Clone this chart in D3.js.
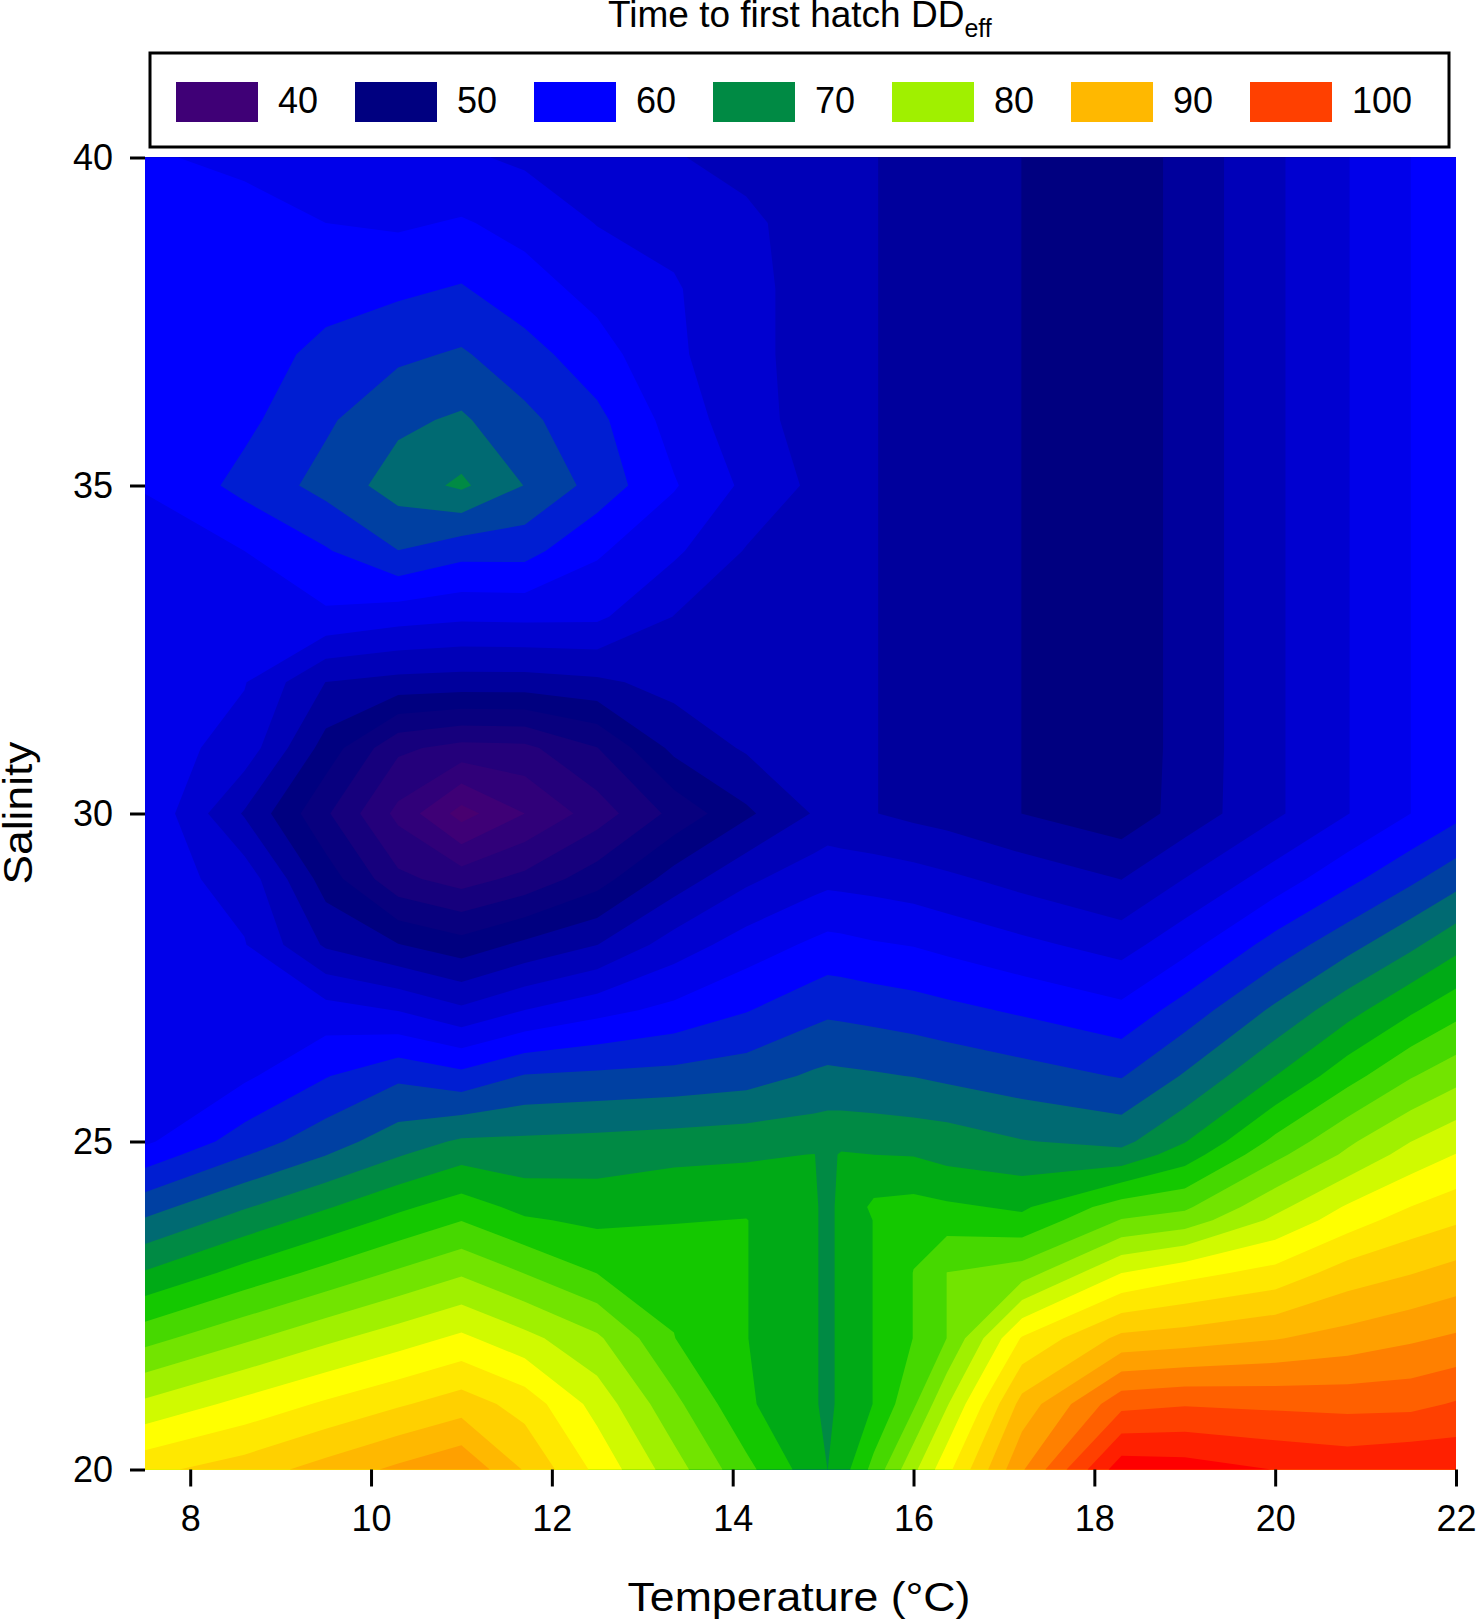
<!DOCTYPE html>
<html>
<head>
<meta charset="utf-8">
<style>
  html, body { margin: 0; padding: 0; background: #fff; }
  svg { display: block; }
  text { font-family: "Liberation Sans", Arial, sans-serif; fill: #000; }
</style>
<script src="https://cdn.jsdelivr.net/npm/d3@7"></script>
</head>
<body>
<div id="app"></div>
<script>
// grid nodes read off the picture, not evenly spaced on purpose
const temperatures = [7.5, 8.6, 9.5, 10.3, 11, 11.7, 12.5, 13.35, 14.15, 14.9, 15.05, 15.2, 15.56, 16, 16.37, 17.2, 18.3, 19, 20, 20.8, 21.5, 22]
const salinities = [20, 21, 22, 23, 23.8, 24, 24.8, 25, 26, 27, 28, 29, 30, 31, 32, 33, 34, 35, 36, 37, 38, 39, 40]

// DDeff, one row per salinity, one column per temperature
const hatchGrid = [
  [88.3, 90.0, 92.0, 93.8, 95.3, 90.9, 86.1, 81.0, 76.2, 72.0, 71.1, 72.2, 76.3, 81.7, 86.0, 95.3, 105.8, 105.5, 104.4, 103.8, 104.3, 104.2],
  [82.7, 85.1, 87.0, 88.6, 90.0, 88.0, 83.6, 78.4, 73.7, 71.3, 70.7, 71.5, 73.4, 77.4, 82.0, 91.9, 99.3, 99.8, 99.5, 99.3, 99.4, 100.2],
  [77.0, 79.6, 81.7, 83.4, 84.9, 82.9, 80.4, 75.6, 73.4, 71.3, 70.7, 71.5, 73.4, 75.6, 77.8, 86.9, 91.7, 92.2, 93.2, 94.2, 95.2, 95.9],
  [71.3, 74.1, 76.2, 78.1, 79.7, 77.7, 75.5, 75.1, 73.4, 71.3, 70.7, 71.5, 73.4, 75.6, 77.8, 78.9, 84.4, 85.9, 87.4, 89.9, 91.0, 91.9],
  [66.9, 69.8, 72.0, 73.9, 75.5, 73.6, 72.9, 73.2, 73.4, 71.3, 70.7, 71.5, 73.4, 74.9, 74.6, 73.9, 77.9, 78.8, 82.7, 85.6, 87.7, 88.6],
  [65.8, 68.7, 70.9, 72.9, 74.4, 72.7, 72.3, 72.7, 72.9, 71.3, 70.7, 71.5, 73.8, 74.1, 73.7, 73.0, 76.6, 77.4, 81.6, 84.7, 86.7, 87.8],
  [61.0, 64.3, 66.6, 68.7, 70.3, 69.8, 70.1, 70.6, 70.8, 71.15, 70.6, 71.3, 71.1, 71.0, 70.4, 69.8, 69.6, 72.2, 77.2, 80.4, 83.1, 84.5],
  [59.6, 63.3, 65.7, 67.8, 69.2, 69.3, 69.5, 69.8, 70.1, 70.3, 70.4, 70.5, 70.4, 70.2, 70.0, 69.0, 68.3, 71.0, 76.1, 79.6, 82.2, 83.7],
  [58.9, 59.6, 62.1, 64.0, 62.9, 64.6, 64.9, 65.2, 65.7, 67.0, 67.2, 67.1, 66.9, 66.6, 66.2, 65.4, 64.3, 66.9, 71.1, 74.7, 77.6, 79.2],
  [58.9, 57.9, 58.7, 57.7, 56.0, 57.8, 59.3, 60.6, 62.1, 63.7, 64.0, 63.9, 63.6, 63.2, 62.8, 61.9, 60.6, 63.2, 67.1, 70.3, 73.0, 74.8],
  [58.9, 57.9, 53.0, 51.2, 49.8, 51.6, 53.3, 56.6, 58.8, 60.4, 60.7, 60.6, 60.2, 59.9, 59.4, 58.3, 56.9, 59.2, 63.1, 65.9, 68.4, 70.4],
  [58.9, 56.9, 50.1, 45.0, 43.5, 45.1, 47.9, 52.1, 55.1, 56.9, 57.2, 57.1, 56.9, 56.5, 56.0, 54.8, 53.3, 55.6, 58.8, 61.6, 64.0, 65.8],
  [59.8, 53.1, 47.0, 41.6, 36.9, 40.0, 43.3, 47.3, 50.7, 53.5, 54.0, 53.8, 53.4, 52.8, 52.4, 51.1, 49.7, 52.0, 55.2, 57.7, 60.0, 61.6],
  [58.9, 56.9, 50.2, 44.9, 43.7, 43.9, 46.6, 51.7, 53.6, 54.1, 54.2, 54.0, 53.4, 52.8, 52.4, 51.1, 49.6, 51.9, 55.2, 57.7, 60.0, 61.6],
  [58.9, 57.9, 53.3, 52.6, 52.4, 52.4, 52.9, 54.1, 54.2, 54.2, 54.2, 54.0, 53.4, 52.8, 52.4, 51.1, 49.6, 51.9, 55.2, 57.7, 60.0, 61.6],
  [58.9, 57.9, 59.6, 58.7, 58.2, 58.3, 58.2, 55.5, 54.8, 54.5, 54.4, 54.0, 53.4, 52.8, 52.4, 51.1, 49.6, 51.9, 55.2, 57.7, 60.0, 61.6],
  [59.3, 60.0, 62.0, 64.4, 63.0, 63.0, 60.3, 58.2, 55.4, 54.6, 54.4, 54.0, 53.4, 52.8, 52.4, 51.1, 49.6, 51.9, 55.2, 57.7, 60.0, 61.6],
  [60.1, 62.9, 65.2, 67.7, 69.3, 66.6, 63.6, 60.2, 57.3, 55.1, 54.7, 54.0, 53.4, 52.8, 52.4, 51.1, 49.6, 51.9, 55.2, 57.7, 60.0, 61.6],
  [60.7, 61.7, 64.1, 66.2, 67.0, 65.0, 62.8, 59.1, 56.4, 54.7, 54.4, 54.0, 53.4, 52.8, 52.4, 51.1, 49.6, 51.9, 55.2, 57.7, 60.0, 61.6],
  [60.9, 61.2, 62.8, 64.0, 64.7, 63.1, 60.9, 58.2, 56.2, 54.7, 54.4, 54.0, 53.4, 52.8, 52.4, 51.1, 49.6, 51.9, 55.2, 57.7, 60.0, 61.6],
  [60.7, 60.9, 61.4, 61.8, 62.4, 60.9, 59.3, 58.0, 56.2, 54.7, 54.4, 54.0, 53.4, 52.8, 52.4, 51.1, 49.6, 51.9, 55.2, 57.7, 60.0, 61.6],
  [60.4, 60.7, 60.0, 59.7, 60.2, 59.3, 57.7, 57.1, 56.0, 54.6, 54.4, 54.0, 53.4, 52.8, 52.4, 51.1, 49.6, 51.9, 55.2, 57.7, 60.0, 61.6],
  [60.2, 59.6, 58.9, 58.4, 58.1, 57.4, 56.6, 55.7, 54.9, 54.4, 54.3, 54.0, 53.4, 52.8, 52.4, 51.1, 49.6, 51.9, 55.2, 57.7, 60.0, 61.6]
]

const xTicks = [8, 10, 12, 14, 16, 18, 20, 22]
const yTicks = [20, 25, 30, 35, 40]
const legendLabels = [40, 50, 60, 70, 80, 90, 100]

// one colour per contour level, lowest first
const levelColors = [
  '#480070', '#3e0076', '#300079', '#24007b', '#16007d', '#08007f', '#000080', '#00009c',
  '#0000b8', '#0000d0', '#0000ea', '#0000ff', '#001ed2', '#0040a2', '#006a72', '#008a44',
  '#00aa16', '#14c800', '#46d800', '#72e400', '#a0f000', '#d0fa00', '#ffff00', '#ffe800',
  '#ffd000', '#ffb800', '#ffa000', '#ff8000', '#ff6000', '#ff4000', '#ff2000', '#ff0000'
]
const legendColors = ['#3f0076', '#000080', '#0000ff', '#008a44', '#a0f000', '#ffb800', '#ff4000']

const levelStep = 20 / 9
const levels = d3.range(-2, 30).map(k => 40 + k * levelStep)

const width = 1476
const height = 1621

const svg = d3.select('#app').append('svg')
  .attr('width', width)
  .attr('height', height)

const x = d3.scaleLinear().domain([7.5, 22]).range([145, 1456])
const y = d3.scaleLinear().domain([20, 40]).range([1469.5, 157.5])

// d3.contours works in grid index space, these map it back to the real axes
const tempAt = d3.scaleLinear().domain(d3.range(temperatures.length)).range(temperatures).clamp(true)
const salAt = d3.scaleLinear().domain(d3.range(salinities.length)).range(salinities).clamp(true)

const toPlot = d3.geoTransform({
  point (px, py) {
    this.stream.point(x(tempAt(px - 0.5)), y(salAt(py - 0.5)))
  }
})

const contours = d3.contours()
  .size([temperatures.length, salinities.length])
  .thresholds(levels)(hatchGrid.flat())

svg.append('g')
  .selectAll('path')
  .data(contours)
  .join('path')
  .attr('d', d3.geoPath(toPlot))
  .attr('fill', (d, i) => levelColors[i])

// axes
const xAxis = svg.append('g')
  .attr('transform', 'translate(0,1469.5)')
  .call(d3.axisBottom(x).tickValues(xTicks).tickSize(17).tickPadding(19).tickFormat(d3.format('d')))
const yAxis = svg.append('g')
  .attr('transform', 'translate(145,0)')
  .call(d3.axisLeft(y).tickValues(yTicks).tickSize(15).tickPadding(17).tickFormat(d3.format('d')))

;[xAxis, yAxis].forEach(ax => {
  ax.select('.domain').remove()
  ax.selectAll('line').attr('stroke', '#000').attr('stroke-width', 3)
  ax.selectAll('text').style('font-size', '36px').style('font-family', '"Liberation Sans", Arial, sans-serif')
})

svg.append('text')
  .attr('x', 799)
  .attr('y', 1611)
  .attr('text-anchor', 'middle')
  .attr('textLength', 343)
  .attr('lengthAdjust', 'spacingAndGlyphs')
  .style('font-size', '41px')
  .text('Temperature (°C)')

svg.append('text')
  .attr('transform', 'translate(32,813) rotate(-90)')
  .attr('text-anchor', 'middle')
  .attr('textLength', 143)
  .attr('lengthAdjust', 'spacingAndGlyphs')
  .style('font-size', '40px')
  .text('Salinity')

// title with subscript
const title = svg.append('text')
  .attr('x', 608)
  .attr('y', 27)
  .style('font-size', '37px')
title.append('tspan').text('Time to first hatch DD')
title.append('tspan').attr('dy', 9.5).style('font-size', '25px').text('eff')

// legend
svg.append('rect')
  .attr('x', 150)
  .attr('y', 53)
  .attr('width', 1299)
  .attr('height', 94)
  .attr('fill', '#fff')
  .attr('stroke', '#000')
  .attr('stroke-width', 3)

const legendX = d3.scalePoint().domain(legendLabels).range([176, 1250])

const legendItem = svg.selectAll('.legend-item')
  .data(legendLabels)
  .join('g')
  .attr('class', 'legend-item')
  .attr('transform', d => `translate(${legendX(d)},82)`)

legendItem.append('rect')
  .attr('width', 82)
  .attr('height', 40)
  .attr('fill', (d, i) => legendColors[i])

legendItem.append('text')
  .attr('x', 102)
  .attr('y', 31)
  .style('font-size', '36px')
  .text(d => d)
</script>
</body>
</html>
